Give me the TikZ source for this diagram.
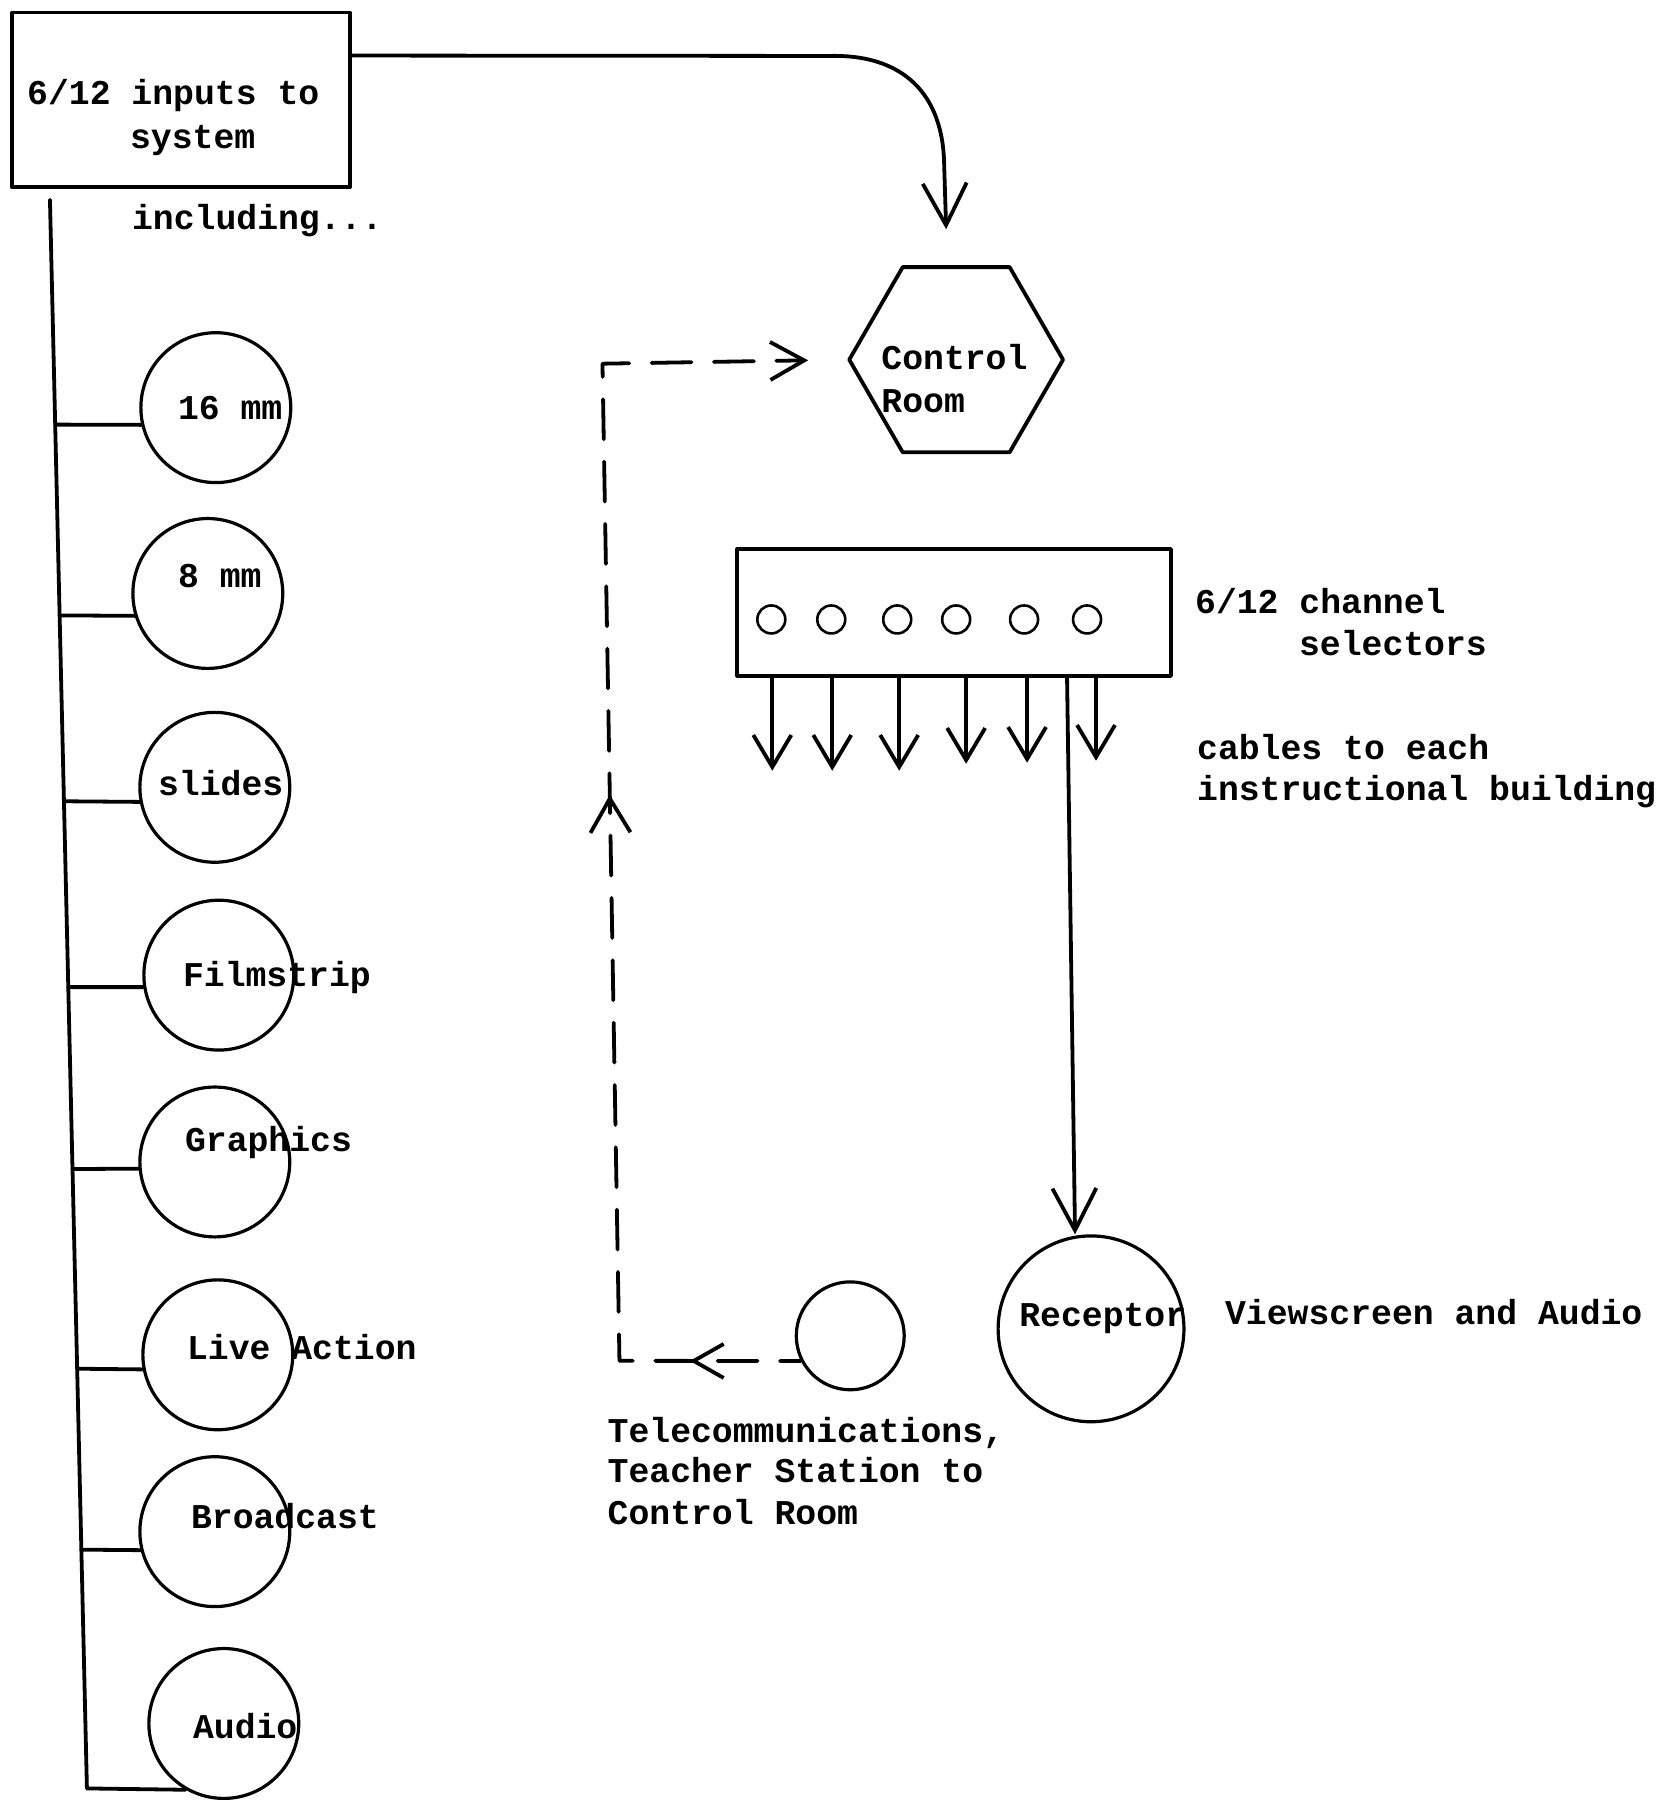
\documentclass[tikz,border=0pt]{standalone}
\usepackage{fontspec}
\newfontfamily\twfont{Liberation Mono}[BoldFont={Liberation Mono Bold}]
\usetikzlibrary{arrows.meta,shapes.geometric,calc,decorations.markings}
\begin{document}
\begin{tikzpicture}[x=1pt,y=-1pt,
  ink/.style={line width=3.8pt, line cap=round, line join=round},
  thin ink/.style={line width=3.2pt},
  lbl/.style={font=\twfont\bfseries\fontsize{34.8}{40}\selectfont, inner sep=0pt, anchor=base west},
  src/.style={circle, draw, thin ink, minimum size=150pt, inner sep=0pt},
  knob/.style={circle, draw, line width=2.6pt, minimum size=28pt, inner sep=0pt},
  bigvee/.style={-{Straight Barb[length=42pt,width=44pt]}},
  smallvee/.style={-{Straight Barb[length=32pt,width=38pt]}},
  dashvee/.style={-{Straight Barb[length=34pt,width=38pt]}},
]
% page
\fill[white] (0,0) rectangle (1681,1800);

% ---- input block and its sources ----
\node[draw, ink, minimum width=338pt, minimum height=175pt, inner sep=0pt] (inputs) at (181,100) {};
\node[lbl] (inputsA) at (27,105) {6/12 inputs to};
\node[lbl] (inputsB) at (130,149) {system};
\node[lbl] (incl) at (132,230) {including...};

\coordinate (spt) at (50,200);
\coordinate (spb) at (87,1790);
\draw[ink] (spt) -- (spb);

\foreach \n/\x/\y in {c16/216/408, c8/208/594, csl/215/788, cfs/219/976,
                      cgr/215/1163, cla/218/1356, cbr/215/1533, cau/224/1725}
  \node[src] (\n) at (\x,\y) {};

\foreach \n/\a/\t in {c16/193/0.1415, c8/197/0.2616, csl/191/0.3786, cfs/189/0.4956,
                      cgr/185/0.6101, cla/191/0.7358, cbr/194/0.8497, cau/240/1}
  \draw[ink] ($(spt)!\t!(spb)$) -- (\n.\a);

\node[lbl] (l16) at (178,420) {16 mm};
\node[lbl] (l8)  at (178,588) {8 mm};
\node[lbl] (lsl) at (158,796) {slides};
\node[lbl] (lfs) at (183,987) {Filmstrip};
\node[lbl] (lgr) at (185,1153) {Graphics};
\node[lbl] (lla) at (187,1361) {Live Action};
\node[lbl] (lbr) at (191,1530) {Broadcast};
\node[lbl] (lau) at (193,1740) {Audio};

% ---- control room ----
\node[regular polygon, regular polygon sides=6, draw, ink, minimum size=214pt, inner sep=0pt] (ctrl) at (957,360) {};
\node[lbl] (ctrlA) at (882,370) {Control};
\node[lbl] (ctrlB) at (882,413) {Room};

\draw[ink, bigvee] ([yshift=-45pt]inputs.north east) -- (830,56)
  .. controls (905,54) and (944,95) .. (945,165)
  -- ([xshift=-10pt,yshift=36pt]ctrl.north);

% ---- channel selectors ----
\node[draw, ink, minimum width=434pt, minimum height=127pt, inner sep=0pt] (sel) at (955,613) {};
\foreach \i/\x in {1/772,2/832,3/898,4/957,5/1025,6/1088}
  \node[knob] (s\i) at (\x,620) {};
\foreach \i/\dx/\len in {1/1/93, 2/1/93, 3/2/93, 4/10/86, 5/3/85, 6/9/83}
  \draw[ink, smallvee] ($(s\i |- sel.south)+(\dx,0)$) -- ++(0,\len);

\node[lbl] (chA) at (1196,614) {6/12 channel};
\node[lbl] (chB) at (1300,656) {selectors};
\node[lbl] (cbA) at (1198,760) {cables to each};
\node[lbl] (cbB) at (1198,801) {instructional building};

% ---- receptor ----
\node[circle, draw, thin ink, minimum size=186pt, inner sep=0pt] (rec) at (1092,1330) {};
\node[lbl] (recA) at (1020,1328) {Receptor};
\node[lbl] (view) at (1226,1326) {Viewscreen and Audio};
\draw[ink, bigvee] ($(sel.south)+(113,0)$) -- ([xshift=-16pt]rec.north);

% ---- teacher station return line ----
\node[circle, draw, thin ink, minimum size=108pt, inner sep=0pt] (tele) at (851,1337) {};
\node[lbl] (telA) at (608,1444) {Telecommunications,};
\node[lbl] (telB) at (608,1484) {Teacher Station to};
\node[lbl] (telC) at (608,1526) {Control Room};

\coordinate (cb) at (620,1362);
\coordinate (ct) at (603,364);
\draw[ink, dash pattern=on 40pt off 22.4pt, dash phase=19.2pt, dashvee, shorten >=39pt,
      decoration={markings,
        mark=at position 111pt with {\arrow{Straight Barb[length=30pt,width=34pt]}},
        mark=at position 748pt with {\arrow{Straight Barb[length=34pt,width=40pt]}}},
      postaction={decorate}]
  (tele.207) -- (cb) -- (ct) -- (ctrl.west);
\end{tikzpicture}
\end{document}
